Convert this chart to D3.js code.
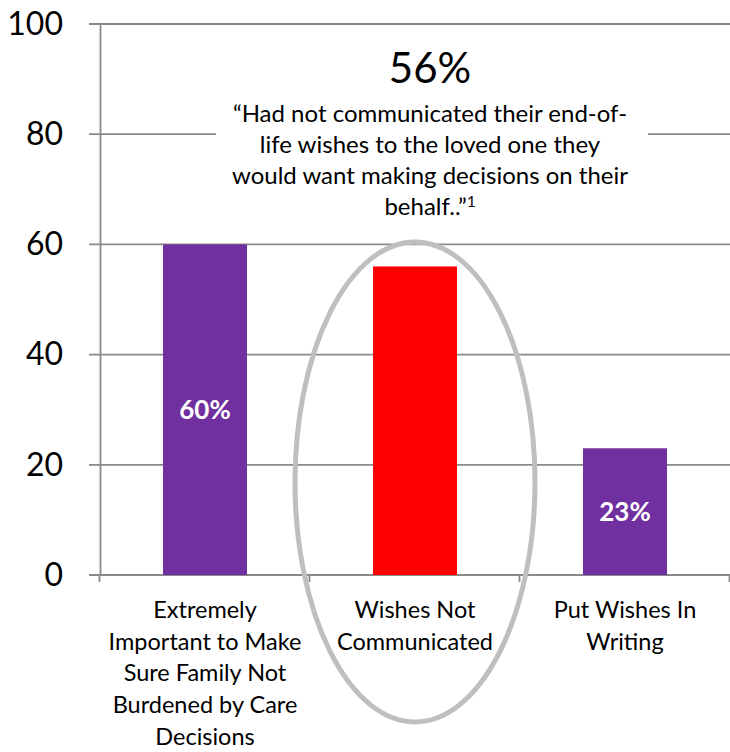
<!DOCTYPE html>
<html>
<head>
<meta charset="utf-8">
<script src="https://cdn.jsdelivr.net/npm/d3@7"></script>
<style>
  body { margin: 0; background: #fff; }
  svg { display: block; font-family: Lato, "Open Sans", sans-serif; }
</style>
</head>
<body>
<script>
// Chart data
const categories = ["Extremely Important", "Wishes Not Communicated", "Put Wishes In Writing"];
const categoryLines = [
  ["Extremely", "Important to Make", "Sure Family Not", "Burdened by Care", "Decisions"],
  ["Wishes Not", "Communicated"],
  ["Put Wishes In", "Writing"]
];
const values = [60, 56, 23];
const barColors = ["#7030a0", "#ff0000", "#7030a0"];
const barLabels = ["60%", "", "23%"];
const yTicks = [0, 20, 40, 60, 80, 100];
const calloutValue = "56%";
const calloutLines = [
  "\u201cHad not communicated their end-of-",
  "life wishes to the loved one they",
  "would want making decisions on their",
  "behalf..\u201d"
];

const width = 730, height = 752;
const gridColor = "#8a8a8a";

const svg = d3.select("body")
  .append("svg")
  .attr("width", width)
  .attr("height", height);

// Scales
const x = d3.scaleBand().domain(categories).range([100, 730]);
const y = d3.scaleLinear().domain([0, 100]).range([575, 24]);

// Gridlines
svg.append("g")
  .selectAll("line")
  .data(yTicks)
  .join("line")
  .attr("x1", 89)
  .attr("x2", 730)
  .attr("y1", d => y(d))
  .attr("y2", d => y(d))
  .attr("stroke", gridColor)
  .attr("stroke-width", 1.8);

// Y axis
const yAxis = svg.append("g")
  .attr("transform", "translate(100,0)")
  .call(d3.axisLeft(y).tickValues(yTicks).tickSize(0).tickPadding(37));
yAxis.select(".domain").attr("stroke", gridColor).attr("stroke-width", 1.8);
yAxis.selectAll("text")
  .attr("font-family", "Lato, sans-serif")
  .attr("font-size", 32)
  .attr("fill", "#000");

// X axis ticks at band edges
const edges = categories.map(c => x(c)).concat([x.range()[1]]);
svg.append("g")
  .selectAll("line")
  .data(edges)
  .join("line")
  .attr("x1", d => d - 0.5)
  .attr("x2", d => d - 0.5)
  .attr("y1", y(0))
  .attr("y2", y(0) + 7)
  .attr("stroke", gridColor)
  .attr("stroke-width", 1.8);

// Bars
const barW = x.bandwidth() * 0.4;
svg.append("g")
  .selectAll("rect")
  .data(values)
  .join("rect")
  .attr("x", (d, i) => x(categories[i]) + (x.bandwidth() - barW) / 2)
  .attr("y", d => y(d))
  .attr("width", barW)
  .attr("height", d => y(0) - y(d))
  .attr("fill", (d, i) => barColors[i]);

// Bar value labels
svg.append("g")
  .selectAll("text")
  .data(values)
  .join("text")
  .attr("x", (d, i) => x(categories[i]) + x.bandwidth() / 2)
  .attr("y", d => (y(d) + y(0)) / 2)
  .attr("dy", "0.35em")
  .attr("text-anchor", "middle")
  .attr("font-size", 26)
  .attr("font-weight", "bold")
  .attr("fill", "#fff")
  .text((d, i) => barLabels[i]);

// Category labels
const catText = svg.append("g")
  .selectAll("text")
  .data(categoryLines)
  .join("text")
  .attr("text-anchor", "middle")
  .attr("font-size", 23.5)
  .attr("fill", "#000");
catText.selectAll("tspan")
  .data((d, i) => d.map(line => ({line, i})))
  .join("tspan")
  .attr("x", d => x(categories[d.i]) + x.bandwidth() / 2)
  .attr("y", (d, j) => 618 + j * 31.7)
  .text(d => d.line);

// Callout box
svg.append("rect")
  .attr("x", 216)
  .attr("y", 40)
  .attr("width", 432)
  .attr("height", 188)
  .attr("fill", "#fff");

svg.append("text")
  .attr("x", 430)
  .attr("y", 83)
  .attr("text-anchor", "middle")
  .attr("font-size", 42)
  .attr("fill", "#000")
  .text(calloutValue);

const quote = svg.append("text")
  .attr("text-anchor", "middle")
  .attr("font-size", 24)
  .attr("fill", "#000");
calloutLines.forEach((line, j) => {
  const t = quote.append("tspan")
    .attr("x", 430)
    .attr("y", 122 + j * 31)
    .text(line);
  if (j === calloutLines.length - 1) {
    t.append("tspan")
      .attr("font-size", 15)
      .attr("dy", "-0.55em")
      .text("1");
  }
});

// Highlight ellipse around middle bar
svg.append("ellipse")
  .attr("cx", x(categories[1]) + x.bandwidth() / 2)
  .attr("cy", 482)
  .attr("rx", 120)
  .attr("ry", 240)
  .attr("fill", "none")
  .attr("stroke", "#bfbfbf")
  .attr("stroke-width", 5);
</script>
</body>
</html>
